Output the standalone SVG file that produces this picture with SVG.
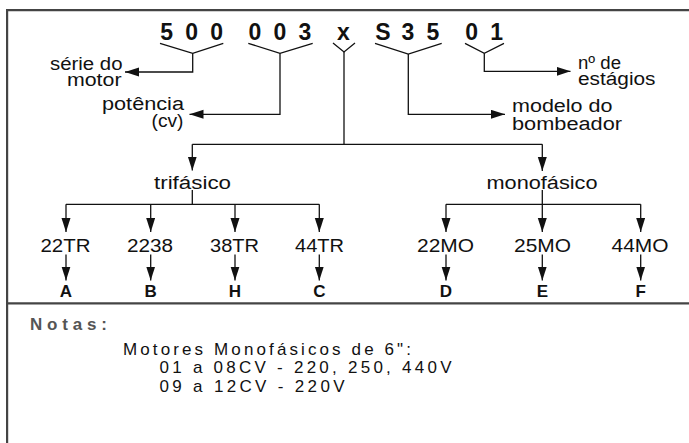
<svg xmlns="http://www.w3.org/2000/svg" width="689" height="443" viewBox="0 0 689 443">
<style>
text{font-family:"Liberation Sans",Arial,sans-serif;fill:#111}
.lbl{font-size:18px}
.code{font-size:23px;font-weight:bold;text-anchor:middle}
.let{font-size:17px;font-weight:bold;text-anchor:middle}
.note{font-size:17px}
.ln{fill:none;stroke:#111;stroke-width:1.3}
.frame{fill:none;stroke:#444;stroke-width:2.2}
</style>
<defs>
<marker id="ah" markerUnits="userSpaceOnUse" markerWidth="15" markerHeight="10" refX="14" refY="4.5" orient="auto">
<path d="M0,0 L14,4.5 L0,9 z" fill="#111"/>
</marker>
</defs>
<rect width="689" height="443" fill="#fff"/>
<g id="frame">
<path class="frame" d="M7.1,443 V10.2 H689"/>
<path class="frame" d="M7.1,303.3 H689"/>
</g>
<g id="code">
<text class="code" x="166.7 191.7 216.7" y="39.5">500</text>
<text class="code" x="255 280 305" y="39.5">003</text>
<text class="code" x="343.5" y="39.5">x</text>
<text class="code" x="383 408 433" y="39.5">S35</text>
<text class="code" x="471.7 496.7" y="39.5">01</text>
</g>
<g id="brackets">
<path class="ln" d="M160,43.3 L192.7,53.3 L223.3,43.3"/>
<path class="ln" d="M248.3,43.3 L280,53.3 L312.7,43.3"/>
<path class="ln" d="M333,43 L344,52 L355,43"/>
<path class="ln" d="M375,43.3 L408.3,54 L441.7,43.3"/>
<path class="ln" d="M465,43.3 L484.3,53.3 L504,43.3"/>
</g>
<g id="n-serie">
<text class="lbl" x="50" y="69.5" textLength="72.5" lengthAdjust="spacingAndGlyphs">série do</text>
<text class="lbl" x="67" y="85.5" textLength="54.5" lengthAdjust="spacingAndGlyphs">motor</text>
</g>
<g id="n-potencia">
<text class="lbl" x="102" y="110" textLength="82" lengthAdjust="spacingAndGlyphs">potência</text>
<text class="lbl" x="151.5" y="127" textLength="32" lengthAdjust="spacingAndGlyphs">(cv)</text>
</g>
<g id="n-modelo">
<text class="lbl" x="512" y="112" textLength="100.5" lengthAdjust="spacingAndGlyphs">modelo do</text>
<text class="lbl" x="512" y="129.5" textLength="110" lengthAdjust="spacingAndGlyphs">bombeador</text>
</g>
<g id="n-estagios">
<text class="lbl" x="578" y="68.5" textLength="43" lengthAdjust="spacingAndGlyphs">nº de</text>
<text class="lbl" x="578" y="84.5" textLength="77.5" lengthAdjust="spacingAndGlyphs">estágios</text>
</g>
<g id="n-trifasico"><text class="lbl" x="154" y="189" textLength="77" lengthAdjust="spacingAndGlyphs">trifásico</text></g>
<g id="n-monofasico"><text class="lbl" x="486.5" y="189" textLength="111" lengthAdjust="spacingAndGlyphs">monofásico</text></g>
<g id="n-22TR"><text class="lbl" x="40.5" y="251.5" textLength="50" lengthAdjust="spacingAndGlyphs">22TR</text></g>
<g id="n-2238"><text class="lbl" x="127" y="251.5" textLength="46" lengthAdjust="spacingAndGlyphs">2238</text></g>
<g id="n-38TR"><text class="lbl" x="210" y="251.5" textLength="49" lengthAdjust="spacingAndGlyphs">38TR</text></g>
<g id="n-44TR"><text class="lbl" x="295" y="251.5" textLength="49" lengthAdjust="spacingAndGlyphs">44TR</text></g>
<g id="n-22MO"><text class="lbl" x="417" y="251.5" textLength="57" lengthAdjust="spacingAndGlyphs">22MO</text></g>
<g id="n-25MO"><text class="lbl" x="514" y="251.5" textLength="57" lengthAdjust="spacingAndGlyphs">25MO</text></g>
<g id="n-44MO"><text class="lbl" x="611.5" y="251.5" textLength="57" lengthAdjust="spacingAndGlyphs">44MO</text></g>
<g id="n-A"><text class="let" x="66" y="297.3">A</text></g>
<g id="n-B"><text class="let" x="150.7" y="297.3">B</text></g>
<g id="n-H"><text class="let" x="235" y="297.3">H</text></g>
<g id="n-C"><text class="let" x="319.3" y="297.3">C</text></g>
<g id="n-D"><text class="let" x="446" y="297.3">D</text></g>
<g id="n-E"><text class="let" x="542.3" y="297.3">E</text></g>
<g id="n-F"><text class="let" x="640.7" y="297.3">F</text></g>
<g id="connectors">
<path class="ln" d="M192.7,53.3 V72 H125" marker-end="url(#ah)"/>
<path class="ln" d="M280,53.3 V114.3 H189.5" marker-end="url(#ah)"/>
<path class="ln" d="M408.3,54 V114.3 H505" marker-end="url(#ah)"/>
<path class="ln" d="M484.3,53.3 V71.3 H570.5" marker-end="url(#ah)"/>
<path class="ln" d="M344,52 V144.3"/>
<path class="ln" d="M192.3,144.3 H542.3"/>
<path class="ln" d="M192.3,144.3 V170.5" marker-end="url(#ah)"/>
<path class="ln" d="M542.3,144.3 V171" marker-end="url(#ah)"/>
<path class="ln" d="M192.3,190 V204.3 M66,204.3 H319.3"/>
<path class="ln" d="M542.3,190 V204.3 M446,204.3 H640.7"/>
<path class="ln" d="M66,204.3 V232" marker-end="url(#ah)"/>
<path class="ln" d="M150.7,204.3 V232" marker-end="url(#ah)"/>
<path class="ln" d="M235,204.3 V232" marker-end="url(#ah)"/>
<path class="ln" d="M319.3,204.3 V232" marker-end="url(#ah)"/>
<path class="ln" d="M446,204.3 V232" marker-end="url(#ah)"/>
<path class="ln" d="M542.3,204.3 V232" marker-end="url(#ah)"/>
<path class="ln" d="M640.7,204.3 V232" marker-end="url(#ah)"/>
<path class="ln" d="M66,254.5 V280.5" marker-end="url(#ah)"/>
<path class="ln" d="M150.7,254.5 V280.5" marker-end="url(#ah)"/>
<path class="ln" d="M235,254.5 V280.5" marker-end="url(#ah)"/>
<path class="ln" d="M319.3,254.5 V280.5" marker-end="url(#ah)"/>
<path class="ln" d="M446,254.5 V280.5" marker-end="url(#ah)"/>
<path class="ln" d="M542.3,254.5 V280.5" marker-end="url(#ah)"/>
<path class="ln" d="M640.7,254.5 V280.5" marker-end="url(#ah)"/>
</g>
<g id="notes">
<text x="30" y="329.5" font-size="17" font-weight="bold" style="fill:#555" textLength="77">Notas:</text>
<text class="note" x="123" y="355" textLength="288">Motores Monofásicos de 6":</text>
<text class="note" x="159.5" y="373.3" textLength="292">01 a 08CV - 220, 250, 440V</text>
<text class="note" x="159.5" y="391.7" textLength="185">09 a 12CV - 220V</text>
</g>
</svg>
